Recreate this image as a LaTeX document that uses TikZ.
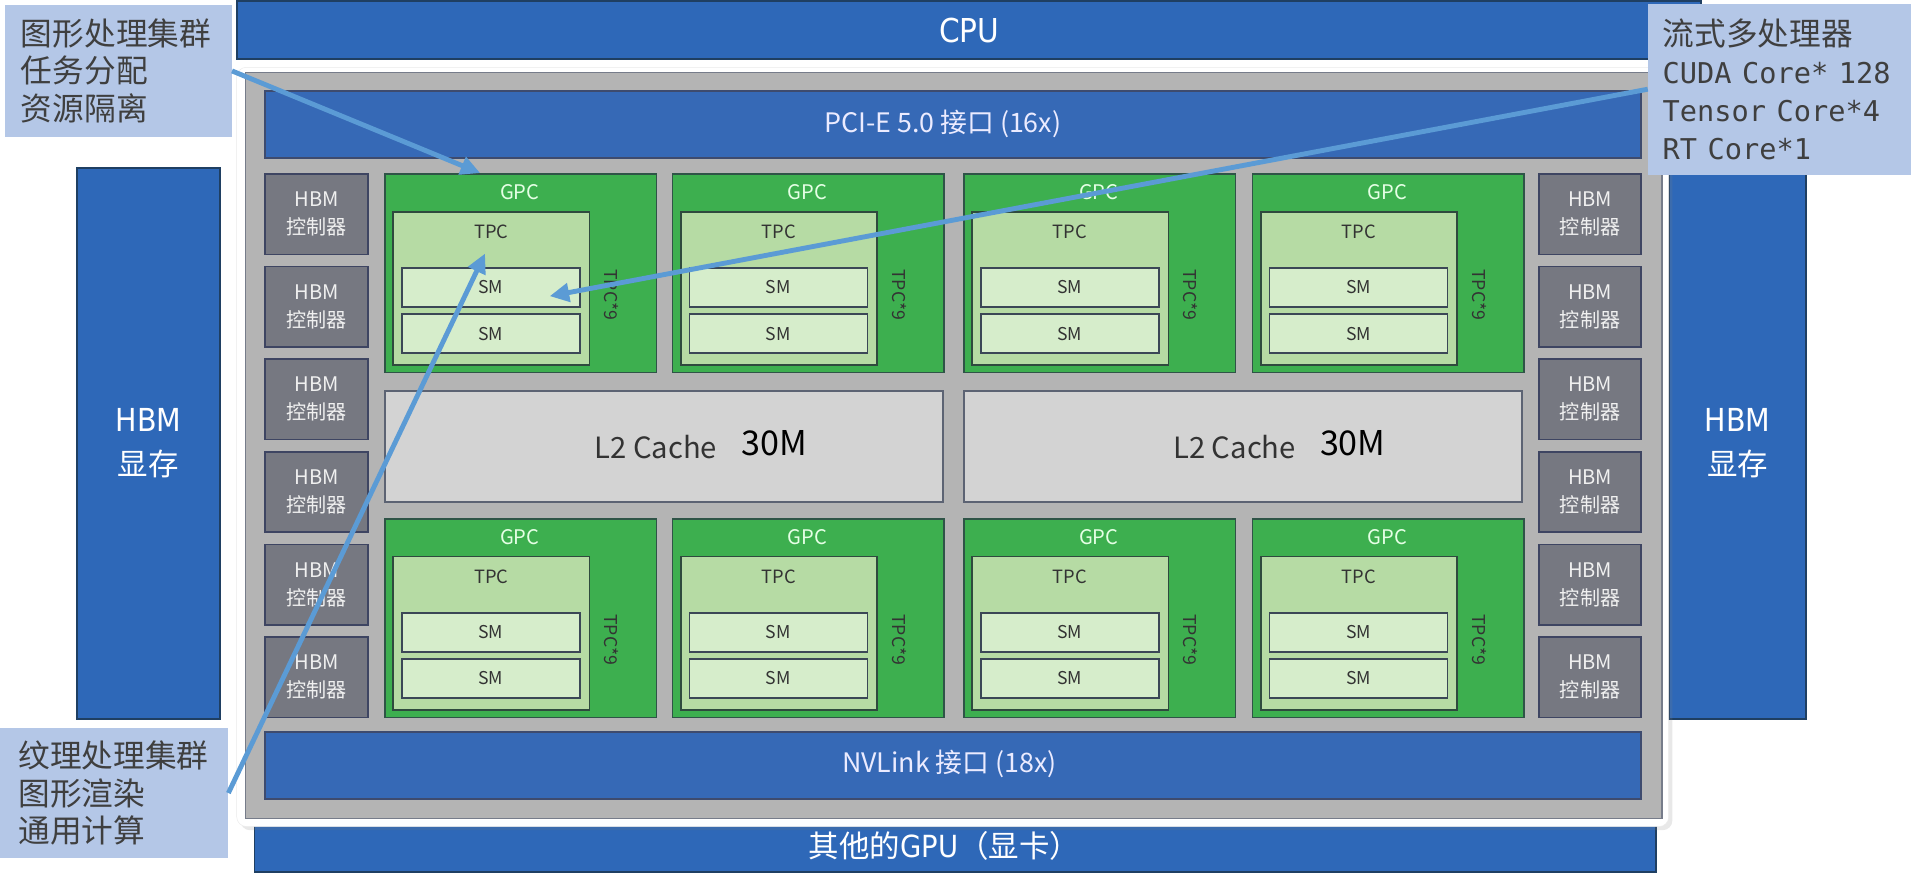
\documentclass[tikz,border=0pt]{standalone}
\usepackage{fontspec}
\setmainfont{Noto Sans CJK SC}
\newfontfamily\monofam{DejaVu Sans Mono}
\newfontfamily\condfam{DejaVu Sans Condensed}
\usepackage{tikz}
\usetikzlibrary{arrows.meta,shadows}
\definecolor{cpublue}{HTML}{2E68B8}
\definecolor{cpuline}{HTML}{1F3F62}
\definecolor{pciblue}{HTML}{3669B6}
\definecolor{pciline}{HTML}{3E4B6E}
\definecolor{chipgray}{HTML}{B4B4B4}
\definecolor{chipline}{HTML}{767C8A}
\definecolor{ctrlgray}{HTML}{767881}
\definecolor{ctrlline}{HTML}{3E4562}
\definecolor{gpcgreen}{HTML}{3DAF4F}
\definecolor{gpcline}{HTML}{2F5447}
\definecolor{tpcgreen}{HTML}{B6DBA4}
\definecolor{tpcline}{HTML}{2F4A3E}
\definecolor{smgreen}{HTML}{D6EDCB}
\definecolor{smline}{HTML}{3B4756}
\definecolor{cachegray}{HTML}{D3D3D3}
\definecolor{cacheline}{HTML}{5C6373}
\definecolor{callblue}{HTML}{B4C7E7}
\definecolor{calltext}{HTML}{3F3F3F}
\definecolor{pointblue}{HTML}{5B9BD5}
\definecolor{darktext}{HTML}{333333}

\begin{document}
\begin{tikzpicture}[scale=1.000000,x=1pt,y=-1pt,
  hostbar/.style={draw=cpuline,fill=cpublue,line width=1.6pt,anchor=north west,inner sep=0pt,text=white},
  linkbar/.style={draw=pciline,fill=pciblue,line width=1.4pt,anchor=north west,inner sep=0pt,minimum width=1129pt,minimum height=55pt},
  linktext/.style={text=white!92!blue,font=\fontsize{22}{22}\selectfont},
  ctrlbox/.style={draw=ctrlline,fill=ctrlgray,line width=1.4pt,anchor=north west,inner sep=0pt,minimum width=84pt,minimum height=66pt,align=center,text=white!94!black,font=\fontsize{16.5}{23}\selectfont},
  gpcbox/.style={draw=gpcline,fill=gpcgreen,line width=1.4pt,anchor=north west,inner sep=0pt,minimum width=223pt,minimum height=163pt},
  gpctext/.style={text=white!90!green,font=\fontsize{16.5}{16.5}\selectfont},
  tpcbox/.style={draw=tpcline,fill=tpcgreen,line width=1.4pt,anchor=north west,inner sep=0pt,minimum width=161pt,minimum height=126pt},
  tpctext/.style={text=darktext,font=\fontsize{15}{15}\selectfont},
  tpcnum/.style={text=darktext,rotate=-90,font=\fontsize{14.5}{14.5}\selectfont},
  smbox/.style={draw=smline,fill=smgreen,line width=1.4pt,anchor=north west,inner sep=0pt,minimum width=146pt,minimum height=32pt,text=darktext,font=\fontsize{14.5}{14.5}\selectfont},
  cachebox/.style={draw=cacheline,fill=cachegray,line width=1.4pt,anchor=north west,inner sep=0pt,minimum width=458pt,minimum height=91pt},
  cachetext/.style={text=darktext,font=\fontsize{24}{24}\selectfont},
  cachesize/.style={text=black,font=\fontsize{28}{28}\selectfont},
  callout/.style={fill=callblue,anchor=north west,inner ysep=0pt,align=left,text=calltext,font=\fontsize{26}{31}\selectfont},
  pointer/.style={draw=pointblue,line width=4pt,-{Triangle[length=16pt,width=15pt]}}]
\useasboundingbox (0,0) rectangle (1568,717);
\filldraw[color=white] (0.000000,0.000000) rectangle (1568.000000,717.000000);
% Drawing host side
\node[hostbar,minimum width=1201pt,minimum height=48pt,font=\condfam\fontsize{27}{27}\selectfont] (cpu) at (194.000000,0.000000) {CPU};
\node[hostbar,minimum width=118pt,minimum height=452pt,align=center,font=\fontsize{25}{36}\selectfont] (hbmleft) at (62.000000,137.000000) {{\condfam\fontsize{26}{36}\selectfont HBM}\\显存};
\node[hostbar,minimum width=112pt,minimum height=452pt,align=center,font=\fontsize{25}{36}\selectfont] (hbmright) at (1369.000000,137.000000) {{\condfam\fontsize{26}{36}\selectfont HBM}\\显存};
\node[hostbar,minimum width=1150pt,minimum height=40pt] (othergpu) at (208.000000,675.000000) {};
\node[text=white,font=\fontsize{25}{25}\selectfont] (othergputxt) at (775.000000,694.000000) {其他的{\condfam GPU}（显卡）};
% Drawing chip
\node[fill=white,draw=black!8,rounded corners=8pt,anchor=north west,inner sep=0pt,minimum width=1175pt,minimum height=623pt,drop shadow={opacity=0.18,shadow xshift=3pt,shadow yshift=-3pt}] (chipedge) at (194.000000,55.000000) {};
\node[fill=chipgray,draw=chipline,line width=1.2pt,anchor=north west,inner sep=0pt,minimum width=1162pt,minimum height=612pt] (chip) at (201.000000,59.000000) {};
\node[linkbar] (pcie) at (217.000000,74.000000) {};
\node[linktext] (pcietxt) at (773.500000,102.000000) {PCI-E 5.0 接口 (16x)};
\node[linkbar] (nvlink) at (217.000000,600.000000) {};
\node[linktext] (nvlinktxt) at (779.000000,627.000000) {NVLink 接口 (18x)};
% HBM controllers, left column
\node[ctrlbox] (ctrlL1) at (217.000000,142.000000) {HBM\\控制器};
\node[ctrlbox] (ctrlL2) at (217.000000,218.000000) {HBM\\控制器};
\node[ctrlbox] (ctrlL3) at (217.000000,294.000000) {HBM\\控制器};
\node[ctrlbox] (ctrlL4) at (217.000000,370.000000) {HBM\\控制器};
\node[ctrlbox] (ctrlL5) at (217.000000,446.000000) {HBM\\控制器};
\node[ctrlbox] (ctrlL6) at (217.000000,522.000000) {HBM\\控制器};
% HBM controllers, right column
\node[ctrlbox] (ctrlR1) at (1262.000000,142.000000) {HBM\\控制器};
\node[ctrlbox] (ctrlR2) at (1262.000000,218.000000) {HBM\\控制器};
\node[ctrlbox] (ctrlR3) at (1262.000000,294.000000) {HBM\\控制器};
\node[ctrlbox] (ctrlR4) at (1262.000000,370.000000) {HBM\\控制器};
\node[ctrlbox] (ctrlR5) at (1262.000000,446.000000) {HBM\\控制器};
\node[ctrlbox] (ctrlR6) at (1262.000000,522.000000) {HBM\\控制器};
% GPC 1: upper row
\node[gpcbox] (gpc1) at (315.000000,142.000000) {};
\node[gpctext] (gpc1txt) at (426.500000,158.000000) {GPC};
\node[tpcbox] (tpc1) at (322.000000,173.000000) {};
\node[tpctext] (tpc1txt) at (403.000000,190.000000) {TPC};
\node[smbox] (sm1a) at (329.000000,219.000000) {SM};
\node[smbox] (sm1b) at (329.000000,257.000000) {SM};
\node[tpcnum] (tpc1num) at (502.000000,242.000000) {TPC*9};
% GPC 2: upper row
\node[gpcbox] (gpc2) at (551.000000,142.000000) {};
\node[gpctext] (gpc2txt) at (662.500000,158.000000) {GPC};
\node[tpcbox] (tpc2) at (558.000000,173.000000) {};
\node[tpctext] (tpc2txt) at (639.000000,190.000000) {TPC};
\node[smbox] (sm2a) at (565.000000,219.000000) {SM};
\node[smbox] (sm2b) at (565.000000,257.000000) {SM};
\node[tpcnum] (tpc2num) at (738.000000,242.000000) {TPC*9};
% GPC 3: upper row
\node[gpcbox] (gpc3) at (790.000000,142.000000) {};
\node[gpctext] (gpc3txt) at (901.500000,158.000000) {GPC};
\node[tpcbox] (tpc3) at (797.000000,173.000000) {};
\node[tpctext] (tpc3txt) at (878.000000,190.000000) {TPC};
\node[smbox] (sm3a) at (804.000000,219.000000) {SM};
\node[smbox] (sm3b) at (804.000000,257.000000) {SM};
\node[tpcnum] (tpc3num) at (977.000000,242.000000) {TPC*9};
% GPC 4: upper row
\node[gpcbox] (gpc4) at (1027.000000,142.000000) {};
\node[gpctext] (gpc4txt) at (1138.500000,158.000000) {GPC};
\node[tpcbox] (tpc4) at (1034.000000,173.000000) {};
\node[tpctext] (tpc4txt) at (1115.000000,190.000000) {TPC};
\node[smbox] (sm4a) at (1041.000000,219.000000) {SM};
\node[smbox] (sm4b) at (1041.000000,257.000000) {SM};
\node[tpcnum] (tpc4num) at (1214.000000,242.000000) {TPC*9};
% L2 caches
\node[cachebox] (l2a) at (315.000000,320.000000) {};
\node[cachetext] (l2atxt) at (538.000000,367.000000) {L2 Cache};
\node[cachesize] (l2asize) at (635.000000,363.500000) {30M};
\node[cachebox] (l2b) at (790.000000,320.000000) {};
\node[cachetext] (l2btxt) at (1013.000000,367.000000) {L2 Cache};
\node[cachesize] (l2bsize) at (1110.000000,363.500000) {30M};
% GPC 5: lower row
\node[gpcbox] (gpc5) at (315.000000,425.000000) {};
\node[gpctext] (gpc5txt) at (426.500000,441.000000) {GPC};
\node[tpcbox] (tpc5) at (322.000000,456.000000) {};
\node[tpctext] (tpc5txt) at (403.000000,473.000000) {TPC};
\node[smbox] (sm5a) at (329.000000,502.000000) {SM};
\node[smbox] (sm5b) at (329.000000,540.000000) {SM};
\node[tpcnum] (tpc5num) at (502.000000,525.000000) {TPC*9};
% GPC 6: lower row
\node[gpcbox] (gpc6) at (551.000000,425.000000) {};
\node[gpctext] (gpc6txt) at (662.500000,441.000000) {GPC};
\node[tpcbox] (tpc6) at (558.000000,456.000000) {};
\node[tpctext] (tpc6txt) at (639.000000,473.000000) {TPC};
\node[smbox] (sm6a) at (565.000000,502.000000) {SM};
\node[smbox] (sm6b) at (565.000000,540.000000) {SM};
\node[tpcnum] (tpc6num) at (738.000000,525.000000) {TPC*9};
% GPC 7: lower row
\node[gpcbox] (gpc7) at (790.000000,425.000000) {};
\node[gpctext] (gpc7txt) at (901.500000,441.000000) {GPC};
\node[tpcbox] (tpc7) at (797.000000,456.000000) {};
\node[tpctext] (tpc7txt) at (878.000000,473.000000) {TPC};
\node[smbox] (sm7a) at (804.000000,502.000000) {SM};
\node[smbox] (sm7b) at (804.000000,540.000000) {SM};
\node[tpcnum] (tpc7num) at (977.000000,525.000000) {TPC*9};
% GPC 8: lower row
\node[gpcbox] (gpc8) at (1027.000000,425.000000) {};
\node[gpctext] (gpc8txt) at (1138.500000,441.000000) {GPC};
\node[tpcbox] (tpc8) at (1034.000000,456.000000) {};
\node[tpctext] (tpc8txt) at (1115.000000,473.000000) {TPC};
\node[smbox] (sm8a) at (1041.000000,502.000000) {SM};
\node[smbox] (sm8b) at (1041.000000,540.000000) {SM};
\node[tpcnum] (tpc8num) at (1214.000000,525.000000) {TPC*9};
% Done with chip; drawing callouts
\node[callout,inner xsep=13pt,text width=160pt,minimum height=108pt] (callgpc) at (4.000000,4.000000) {图形处理集群\\任务分配\\资源隔离};
\node[callout,inner xsep=12pt,text width=192pt,minimum height=140pt] (callsm) at (1352.000000,3.000000) {流式多处理器\\{\monofam\fontsize{23.5}{31}\selectfont CUDA Core* 128}\\{\monofam\fontsize{23.5}{31}\selectfont Tensor Core*4}\\{\monofam\fontsize{23.5}{31}\selectfont RT Core*1}};
\node[callout,inner xsep=15pt,text width=157pt,minimum height=107pt] (calltpc) at (0.000000,597.000000) {纹理处理集群\\图形渲染\\通用计算};
% Drawing pointers
\coordinate (gpc1in) at (394.000000,142.000000);
\coordinate (sm1in) at (451.000000,243.000000);
\coordinate (tpc1in) at (398.000000,208.000000);
\draw[pointer] (callgpc.east) -- (gpc1in);
\draw[pointer] (callsm.west) -- (sm1in);
\draw[pointer] (calltpc.east) -- (tpc1in);
% Done with pointers
\end{tikzpicture}
\end{document}
